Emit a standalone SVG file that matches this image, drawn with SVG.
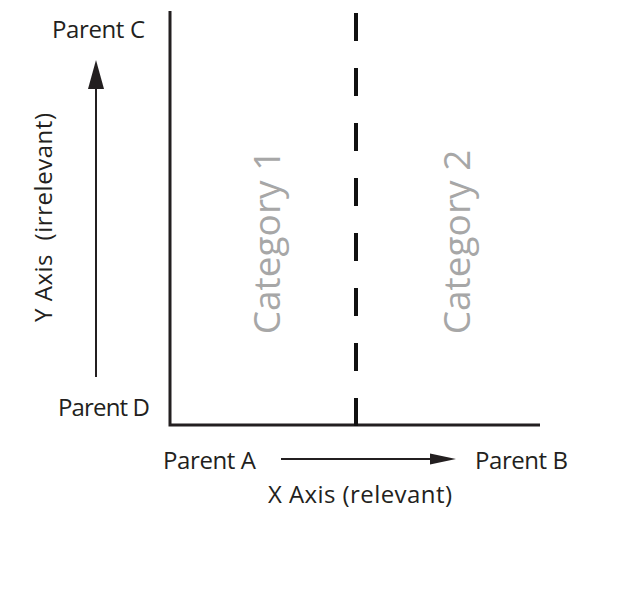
<svg xmlns="http://www.w3.org/2000/svg" width="621" height="596" viewBox="0 0 621 596">
<style>
.lbl{font-family:"Open Sans","Liberation Sans",sans-serif;font-size:24px;fill:#231f20;}
.cat{font-family:"Open Sans","Liberation Sans",sans-serif;font-size:37px;fill:#a7a7a7;text-anchor:middle;}
.ax{stroke:#231f20;stroke-width:3;fill:none;}
.arr{stroke:#231f20;stroke-width:2;fill:none;}
</style>
<rect width="621" height="596" fill="#ffffff"/>
<g id="connectors">
<path class="ax" d="M170,11 V425 H540"/>
<line x1="356" y1="13" x2="356" y2="426" stroke="#111" stroke-width="4" stroke-dasharray="28 27"/>
<line class="arr" x1="96" y1="86" x2="96" y2="377"/>
<path d="M96,60 L104,89 L88,89 Z" fill="#231f20"/>
<line class="arr" x1="281" y1="459" x2="432" y2="459"/>
<path d="M456,459 L430,453.5 L430,464.5 Z" fill="#231f20"/>
</g>
<g id="parentC"><text class="lbl" x="52" y="38" textLength="93">Parent C</text></g>
<g id="parentD"><text class="lbl" x="58" y="416" textLength="92">Parent D</text></g>
<g id="parentA"><text class="lbl" x="163" y="469" textLength="93">Parent A</text></g>
<g id="parentB"><text class="lbl" x="475" y="469" textLength="93">Parent B</text></g>
<g id="xaxis"><text class="lbl" x="268" y="503" textLength="184">X Axis (relevant)</text></g>
<g id="yaxis"><text class="lbl" transform="translate(52,322) rotate(-90)" x="0" y="0" textLength="209" style="white-space:pre">Y Axis  (irrelevant)</text></g>
<g id="category1"><text class="cat" transform="translate(280,242) rotate(-90)" x="0" y="0">Category 1</text></g>
<g id="category2"><text class="cat" transform="translate(470,242) rotate(-90)" x="0" y="0">Category 2</text></g>
</svg>
